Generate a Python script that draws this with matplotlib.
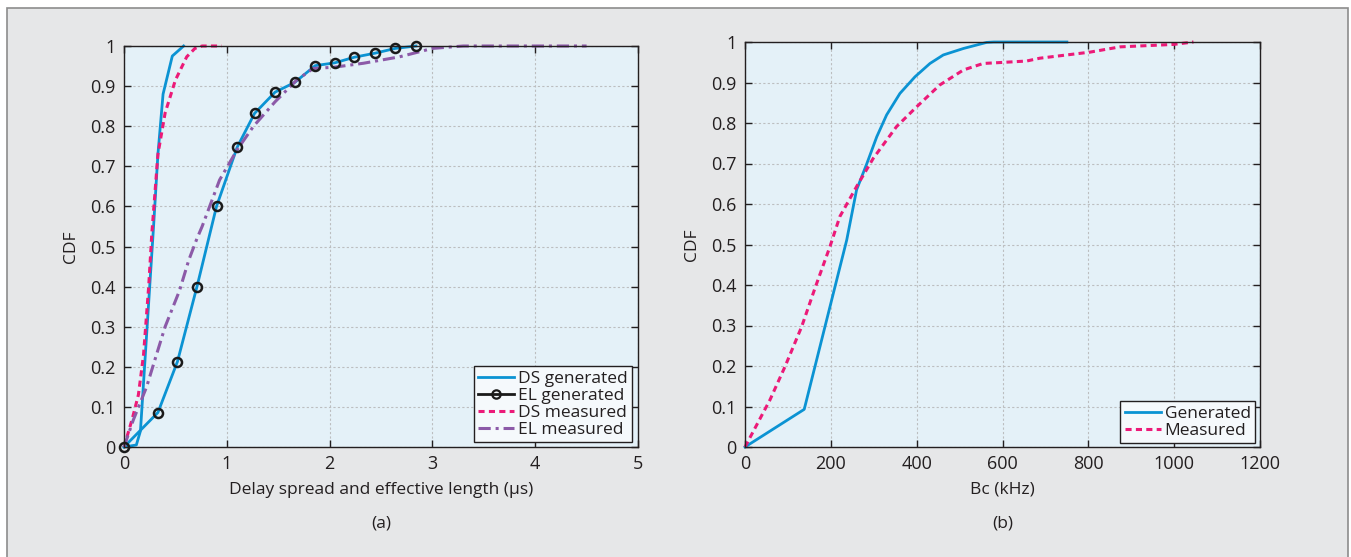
import matplotlib
matplotlib.use("Agg")
import matplotlib.pyplot as plt
from matplotlib.lines import Line2D
from matplotlib.patches import Rectangle

plt.rcParams['font.family'] = ['Open Sans', 'DejaVu Sans']

# ---- Panel (a): delay spread (DS) and effective length (EL), in microseconds ----
ds_gen_x = [0, 0.12, 0.16, 0.29, 0.33, 0.38, 0.47, 0.58]
ds_gen_y = [0, 0.005, 0.04, 0.56, 0.73, 0.88, 0.975, 1.0]

el_gen_x = [0, 0.33, 0.52, 0.71, 0.90, 1.10, 1.27, 1.47, 1.66, 1.86, 2.05, 2.24, 2.44, 2.64, 2.84]
el_gen_y = [0, 0.086, 0.213, 0.40, 0.60, 0.747, 0.832, 0.885, 0.909, 0.951, 0.958, 0.972, 0.982, 0.994, 1.0]

ds_meas_x = [0, 0.08, 0.14, 0.19, 0.24, 0.27, 0.33, 0.40, 0.50, 0.61, 0.69, 0.76, 0.95]
ds_meas_y = [0, 0.07, 0.13, 0.23, 0.40, 0.53, 0.73, 0.833, 0.915, 0.973, 0.994, 1.0, 1.0]

el_meas_x = [0, 0.09, 0.22, 0.30, 0.40, 0.54, 0.63, 0.71, 0.76, 0.93, 1.10, 1.26, 1.47,
             1.68, 1.84, 2.04, 2.33, 2.68, 2.88, 3.0, 3.3, 4.5]
el_meas_y = [0, 0.067, 0.15, 0.217, 0.30, 0.39, 0.466, 0.52, 0.55, 0.666, 0.741, 0.80, 0.861,
             0.915, 0.944, 0.947, 0.957, 0.973, 0.986, 0.994, 1.0, 1.0]

# ---- Panel (b): coherence bandwidth Bc, in kHz ----
bc_gen_x = [0, 138, 237, 260, 284, 307, 330, 361, 396, 431, 462, 509, 563, 580, 750]
bc_gen_y = [0, 0.093, 0.511, 0.635, 0.70, 0.766, 0.82, 0.873, 0.914, 0.947, 0.968, 0.984, 0.999, 1.0, 1.0]

bc_meas_x = [0, 58, 93, 132, 163, 198, 221, 260, 299, 353, 400, 454, 509, 555, 590, 656, 687,
             804, 874, 998, 1045]
bc_meas_y = [0, 0.116, 0.198, 0.297, 0.392, 0.495, 0.569, 0.643, 0.713, 0.791, 0.84, 0.894,
             0.931, 0.947, 0.949, 0.953, 0.96, 0.975, 0.988, 0.994, 1.0]

yticks = [0, 0.1, 0.2, 0.3, 0.4, 0.5, 0.6, 0.7, 0.8, 0.9, 1]
ytick_labels = ['0', '0.1', '0.2', '0.3', '0.4', '0.5', '0.6', '0.7', '0.8', '0.9', '1']
xticks_a = [0, 1, 2, 3, 4, 5]
xticks_b = [0, 200, 400, 600, 800, 1000, 1200]

BLUE = '#0b93d3'
PINK = '#ec1a78'
PURPLE = '#8c5aa8'
TEXT = '#231f20'
FACE = '#e4f1f8'

W, H = 1351, 557
fig = plt.figure(figsize=(W / 100, H / 100), dpi=100)
fig.patch.set_facecolor('white')

# grey panel behind both plots
fig.patches.append(Rectangle((7 / W, -0.02), (1348 - 7) / W, 1 - 8 / H + 0.02,
                             transform=fig.transFigure, facecolor='#e6e7e8',
                             edgecolor='#8c8c8c', linewidth=1.2, zorder=-10))

ax1 = fig.add_axes([124 / W, 110 / H, 514 / W, 401 / H])
ax2 = fig.add_axes([745 / W, 110 / H, 515 / W, 405 / H])

dash_ds = (0, (2.0, 1.4))
dash_el = (0, (4.0, 1.6, 1.0, 1.6))

TICK_FS = 13
LABEL_FS = 12.5
LEG_FS = 12.5


def style(ax, xticks, xlim):
    ax.set_facecolor(FACE)
    ax.set_xlim(*xlim)
    ax.set_ylim(0, 1)
    ax.set_xticks(xticks)
    ax.set_xticklabels([str(t) for t in xticks])
    ax.set_yticks(yticks)
    ax.set_yticklabels(ytick_labels)
    ax.grid(True, color='#bcbec0', linestyle=(0, (2.0, 2.0)), linewidth=0.8)
    ax.set_axisbelow(True)
    ax.tick_params(direction='in', top=True, right=True, length=5, width=1,
                   labelsize=TICK_FS, labelcolor=TEXT, color='#231f20', pad=6)
    for s in ax.spines.values():
        s.set_color('#231f20')
        s.set_linewidth(1.0)
    ax.set_ylabel('CDF', fontsize=LABEL_FS, color=TEXT, labelpad=8)


def legend(ax, handles, labels, anchor):
    leg = ax.legend(handles, labels, loc='lower right', bbox_to_anchor=anchor,
                    borderaxespad=0, fontsize=LEG_FS, labelspacing=0.05,
                    handlelength=2.1, handletextpad=0.2, borderpad=0.25,
                    fancybox=False, framealpha=1, edgecolor='#231f20',
                    facecolor='#f5f9fc')
    leg.get_frame().set_linewidth(1.0)
    for t in leg.get_texts():
        t.set_color(TEXT)
    return leg


# panel (a)
style(ax1, xticks_a, (0, 5))
ax1.plot(ds_gen_x, ds_gen_y, color=BLUE, lw=2.0, clip_on=False)
ax1.plot(el_gen_x, el_gen_y, color=BLUE, lw=2.0, clip_on=False)
ax1.plot(el_gen_x, el_gen_y, linestyle='none', marker='o', markersize=6.5,
         markerfacecolor='none', markeredgecolor='#1a1a1a', markeredgewidth=1.8,
         clip_on=False, zorder=4)
ax1.plot(ds_meas_x, ds_meas_y, color=PINK, lw=2.2, linestyle=dash_ds, clip_on=False)
ax1.plot(el_meas_x, el_meas_y, color=PURPLE, lw=2.2, linestyle=dash_el, clip_on=False)
ax1.set_xlabel('Delay spread and effective length (\u03bcs)', fontsize=LABEL_FS, color=TEXT,
               labelpad=6)

handles_a = [
    Line2D([], [], color=BLUE, lw=2.0),
    Line2D([], [], color='#1a1a1a', lw=2.0, marker='o', markersize=6,
           markerfacecolor='none', markeredgewidth=1.6),
    Line2D([], [], color=PINK, lw=2.2, linestyle=dash_ds),
    Line2D([], [], color=PURPLE, lw=2.2, linestyle=dash_el),
]
legend(ax1, handles_a, ['DS generated', 'EL generated', 'DS measured', 'EL measured'],
       (1 - 6 / 514, 5 / 401))

# panel (b)
style(ax2, xticks_b, (0, 1200))
ax2.plot(bc_gen_x, bc_gen_y, color=BLUE, lw=2.0, clip_on=False)
ax2.plot(bc_meas_x, bc_meas_y, color=PINK, lw=2.2, linestyle=dash_ds, clip_on=False)
ax2.set_xlabel('Bc (kHz)', fontsize=LABEL_FS, color=TEXT, labelpad=6)

handles_b = [Line2D([], [], color=BLUE, lw=2.0),
             Line2D([], [], color=PINK, lw=2.2, linestyle=dash_ds)]
legend(ax2, handles_b, ['Generated', 'Measured'], (1 - 5 / 515, 4 / 405))

# sub-figure captions
fig.text(381 / W, 1 - 524 / H, '(a)', ha='center', va='center', fontsize=LABEL_FS, color=TEXT)
fig.text(1003 / W, 1 - 524 / H, '(b)', ha='center', va='center', fontsize=LABEL_FS, color=TEXT)

fig.savefig('out.png', dpi=100, facecolor=fig.get_facecolor())
